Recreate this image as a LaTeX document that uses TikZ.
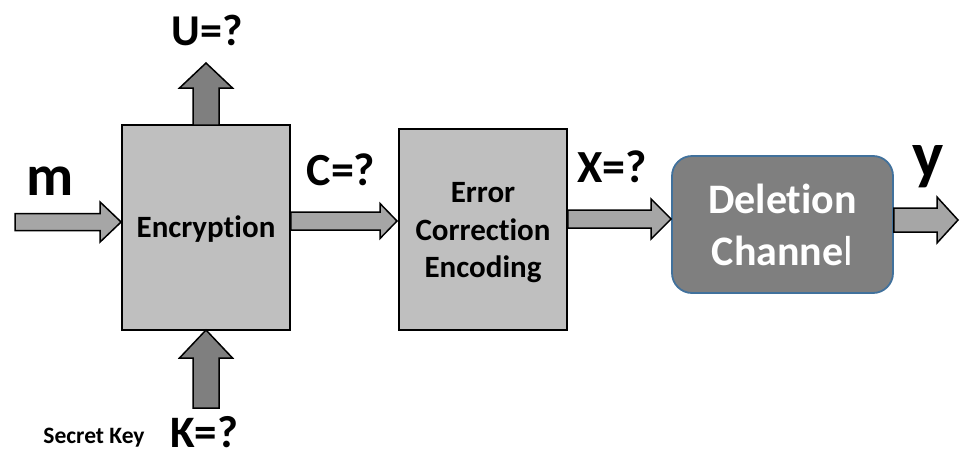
\documentclass[tikz,border=0pt]{standalone}
\usepackage{fontspec}
\setmainfont{Carlito}[RawFeature={-liga;-calt}]
\usetikzlibrary{calc}
\definecolor{boxgray}{HTML}{BFBFBF}
\definecolor{arrgray}{HTML}{A6A6A6}
\definecolor{darkarr}{HTML}{7F7F7F}
\definecolor{delfill}{HTML}{7F7F7F}
\definecolor{delborder}{HTML}{41719C}
\newcommand\fs[1]{\fontsize{#1}{#1}\selectfont\bfseries}
% horizontal block arrow: from, tip, shaft half width, head half width, head length, style
\newcommand\harrow[6]{%
  \draw[#6] let \p1=(#1), \p2=(#2) in
    (\x1,\y1+#3) -- (\x2-#5,\y1+#3) -- (\x2-#5,\y1+#4) -- (\x2,\y1)
    -- (\x2-#5,\y1-#4) -- (\x2-#5,\y1-#3) -- (\x1,\y1-#3) -- cycle;}
% vertical block arrow pointing up
\newcommand\varrow[6]{%
  \draw[#6] let \p1=(#1), \p2=(#2) in
    (\x1-#3,\y1) -- (\x1-#3,\y2-#5) -- (\x1-#4,\y2-#5) -- (\x2,\y2)
    -- (\x1+#4,\y2-#5) -- (\x1+#3,\y2-#5) -- (\x1+#3,\y1) -- cycle;}
\tikzset{
  blockbox/.style={draw=black, line width=1.8pt, fill=boxgray, inner sep=0pt, align=center},
  harr/.style={draw=black, line width=1.5pt, fill=arrgray, line join=miter},
  varr/.style={draw=black, line width=1.5pt, fill=darkarr, line join=miter},
  lbl/.style={anchor=base, inner sep=0pt}
}
\begin{document}
\begin{tikzpicture}[x=1pt, y=-1pt]
\useasboundingbox (0,0) rectangle (960,450);
% boxes
\node[blockbox, minimum width=168pt, minimum height=205pt] (enc) at (206,227.5) {};
\node[blockbox, minimum width=168pt, minimum height=201pt] (ece) at (483,229.5) {};
\node[draw=delborder, line width=1.8pt, fill=delfill, rounded corners=20pt, inner sep=0pt,
  minimum width=221pt, minimum height=137pt] (del) at (782.5,224.5) {};
% box texts
\node[lbl, font=\fs{31}] (enctxt) at (206,237) {Encryption};
\node[lbl, font=\fs{31}] (ece1) at (483,202) {Error};
\node[lbl, font=\fs{31}] (ece2) at (483,240) {Correction};
\node[lbl, font=\fs{31}] (ece3) at (483,277) {Encoding};
\node[lbl, font=\fs{42}, text=white] (del1) at (782.5,213) {Deletion};
\node[lbl, font=\fs{42}, text=white] (del2) at (782.5,265) {Channe{\mdseries l}};
% coordinates
\coordinate (mstart) at (15,222);
\coordinate (mend) at (enc.west |- mstart);
\coordinate (cstart) at (enc.east |- 0,221);
\coordinate (cend) at (397,221);
\coordinate (xstart) at (ece.east |- 0,219);
\coordinate (xend) at (del.west |- xstart);
\coordinate (ystart) at (del.east |- 0,220);
\coordinate (yend) at (958,220);
\coordinate (ustart) at (206,125);
\coordinate (uend) at (206,63);
\coordinate (kstart) at (206,408);
\coordinate (kend) at (206,330);
% arrows
\harrow{mstart}{mend}{8.5pt}{20pt}{21pt}{harr}
\harrow{cstart}{cend}{9pt}{17.5pt}{17pt}{harr}
\harrow{xstart}{xend}{9pt}{20pt}{20pt}{harr}
\harrow{ystart}{yend}{12pt}{23pt}{21pt}{harr}
\varrow{ustart}{uend}{13pt}{26.5pt}{25pt}{varr}
\varrow{kstart}{kend}{13pt}{26.5pt}{28pt}{varr}
% labels
\node[lbl, font=\fs{44}] (ulbl) at (207.5,45) {U=?};
\node[lbl, font=\fs{58}] (mlbl) at (50.5,195) {m};
\node[lbl, font=\fs{46}] (clbl) at (341,185) {C=?};
\node[lbl, font=\fs{46}] (xlbl) at (612,182) {X=?};
\node[lbl, font=\fs{66}] (ylbl) at (928,177) {y};
\node[lbl, font=\fs{45}] (klbl) at (204,447) {K=?};
\node[lbl, font=\fs{23.5}] (sklbl) at (94,443) {Secret Key};
\end{tikzpicture}
\end{document}
